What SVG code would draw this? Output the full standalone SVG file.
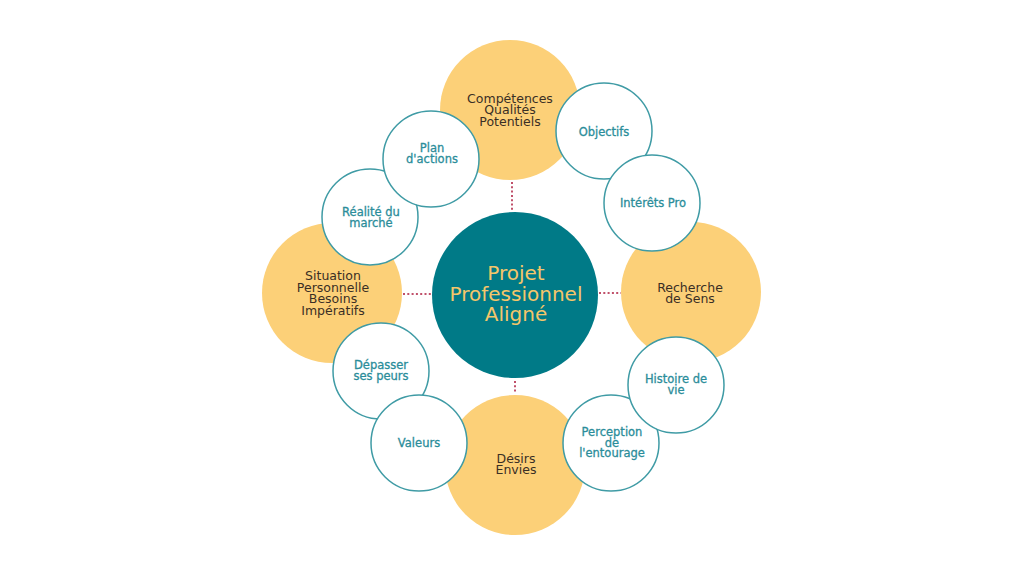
<svg xmlns="http://www.w3.org/2000/svg" width="1024" height="576" viewBox="0 0 1024 576">
<style>
.big{fill:#fcd078}
.sm{fill:#ffffff;stroke:#3f9ba5;stroke-width:1.5}
.ctr{fill:#007a87}
text{font-family:"DejaVu Sans","Liberation Sans",sans-serif;text-anchor:middle}
.dk{fill:#3a2f25;font-size:12.5px}
.tl{fill:#2b8d9a;font-size:11.5px;stroke:#2b8d9a;stroke-width:0.3}
.ct{fill:#f5c66a;font-size:20px}
.dot{stroke:#c0506a;stroke-width:2;stroke-dasharray:2 2.3;fill:none}
</style>
<rect width="1024" height="576" fill="#ffffff"/>
<g id="connectors">
<line class="dot" x1="512" y1="182" x2="512" y2="210"/>
<line class="dot" x1="403" y1="294" x2="431" y2="294"/>
<line class="dot" x1="599" y1="293" x2="621" y2="293"/>
<line class="dot" x1="515" y1="381" x2="515" y2="394"/>
</g>
<g id="n-competences">
<circle class="big" cx="510" cy="110" r="70"/>
<text class="dk" x="510" y="103">Compétences<tspan x="510" dy="11.3">Qualités</tspan><tspan x="510" dy="11.3">Potentiels</tspan></text>
</g>
<g id="n-situation">
<circle class="big" cx="332" cy="293" r="70"/>
<text class="dk" x="333" y="280">Situation<tspan x="333" dy="11.7">Personnelle</tspan><tspan x="333" dy="11.7">Besoins</tspan><tspan x="333" dy="11.7">Impératifs</tspan></text>
</g>
<g id="n-recherche">
<circle class="big" cx="691" cy="292" r="70"/>
<text class="dk" x="690" y="292">Recherche<tspan x="690" dy="11.3">de Sens</tspan></text>
</g>
<g id="n-desirs">
<circle class="big" cx="515" cy="465" r="70"/>
<text class="dk" x="516" y="463">Désirs<tspan x="516" dy="11.3">Envies</tspan></text>
</g>
<g id="n-center">
<circle class="ctr" cx="515" cy="295" r="83"/>
<text class="ct" x="516" y="280">Projet<tspan x="516" dy="20.5">Professionnel</tspan><tspan x="516" dy="20.5">Aligné</tspan></text>
</g>
<g id="n-realite">
<circle class="sm" cx="370" cy="217" r="48"/>
<text class="tl" x="371" y="216">Réalité du<tspan x="371" dy="10.5">marché</tspan></text>
</g>
<g id="n-plan">
<circle class="sm" cx="431" cy="159" r="48"/>
<text class="tl" x="432" y="152">Plan<tspan x="432" dy="10.5">d'actions</tspan></text>
</g>
<g id="n-objectifs">
<circle class="sm" cx="604" cy="131" r="48"/>
<text class="tl" x="604" y="136">Objectifs</text>
</g>
<g id="n-interets">
<circle class="sm" cx="652" cy="203" r="48"/>
<text class="tl" x="653" y="207">Intérêts Pro</text>
</g>
<g id="n-depasser">
<circle class="sm" cx="381" cy="371" r="48"/>
<text class="tl" x="381" y="369">Dépasser<tspan x="381" dy="10.8">ses peurs</tspan></text>
</g>
<g id="n-valeurs">
<circle class="sm" cx="419" cy="443" r="48"/>
<text class="tl" x="419" y="447">Valeurs</text>
</g>
<g id="n-perception">
<circle class="sm" cx="611" cy="443" r="48"/>
<text class="tl" x="612" y="436">Perception<tspan x="612" dy="10.5">de</tspan><tspan x="612" dy="10.5">l'entourage</tspan></text>
</g>
<g id="n-histoire">
<circle class="sm" cx="676" cy="385" r="48"/>
<text class="tl" x="676" y="383">Histoire de<tspan x="676" dy="10.5">vie</tspan></text>
</g>
</svg>
